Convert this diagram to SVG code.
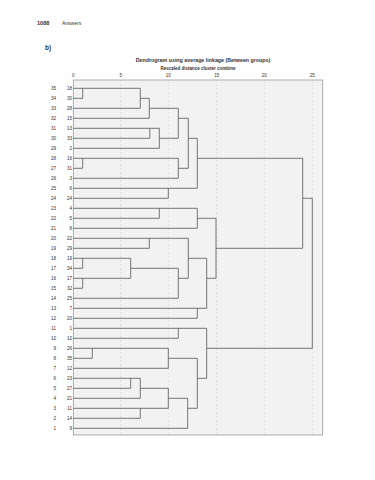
<svg xmlns="http://www.w3.org/2000/svg" width="375" height="480" viewBox="0 0 375 480">
<style>
.t{font-family:"Liberation Sans",Arial,sans-serif;fill:#333}
.lab{font-size:4.6px;text-anchor:end}
.ax{font-size:4.6px;text-anchor:middle}
.grid{stroke:#c8c8c8;stroke-width:0.5;stroke-dasharray:2,2;fill:none}
.ln{stroke:#555;stroke-width:0.8;fill:none}
</style>
<rect width="375" height="480" fill="#fff"/>
<text class="t" x="37" y="25" font-size="5.6" font-weight="bold">1088</text>
<text class="t" x="62" y="25" font-size="5">Answers</text>
<text class="t" x="45" y="50" font-size="6.5" font-weight="bold">b)</text>
<text class="t" x="203" y="61.5" font-size="5.3" font-weight="bold" text-anchor="middle">Dendrogram using average linkage (Between groups)</text>
<text class="t" x="198" y="70" font-size="4.5" font-weight="bold" text-anchor="middle">Rescaled distance cluster combine</text>
<g id="axis">
<text class="t ax" x="73.3" y="77">0</text>
<text class="t ax" x="120.7" y="77">5</text>
<text class="t ax" x="168.3" y="77">10</text>
<text class="t ax" x="216.7" y="77">15</text>
<text class="t ax" x="264.3" y="77">20</text>
<text class="t ax" x="312.3" y="77">25</text>
</g>
<rect id="frame" x="73.3" y="80" width="249.4" height="355" fill="#f2f2f2" stroke="#999" stroke-width="0.8"/>
<path class="grid" d="M120.7 80V435M168.3 80V435M216.7 80V435M264.3 80V435M312.3 80V435"/>
<g id="leaves">
<g id="n18"><text class="t lab" x="56" y="89.9">35</text><text class="t lab" x="72" y="89.9">18</text></g>
<g id="n30"><text class="t lab" x="56" y="99.9">34</text><text class="t lab" x="72" y="99.9">30</text></g>
<g id="n28"><text class="t lab" x="56" y="109.9">33</text><text class="t lab" x="72" y="109.9">28</text></g>
<g id="n15"><text class="t lab" x="56" y="119.9">32</text><text class="t lab" x="72" y="119.9">15</text></g>
<g id="n13"><text class="t lab" x="56" y="129.9">31</text><text class="t lab" x="72" y="129.9">13</text></g>
<g id="n33"><text class="t lab" x="56" y="139.9">30</text><text class="t lab" x="72" y="139.9">33</text></g>
<g id="n2"><text class="t lab" x="56" y="149.9">29</text><text class="t lab" x="72" y="149.9">2</text></g>
<g id="n16"><text class="t lab" x="56" y="159.9">28</text><text class="t lab" x="72" y="159.9">16</text></g>
<g id="n31"><text class="t lab" x="56" y="169.9">27</text><text class="t lab" x="72" y="169.9">31</text></g>
<g id="n3"><text class="t lab" x="56" y="179.9">26</text><text class="t lab" x="72" y="179.9">3</text></g>
<g id="n6"><text class="t lab" x="56" y="189.9">25</text><text class="t lab" x="72" y="189.9">6</text></g>
<g id="n24"><text class="t lab" x="56" y="199.9">24</text><text class="t lab" x="72" y="199.9">24</text></g>
<g id="n4"><text class="t lab" x="56" y="209.9">23</text><text class="t lab" x="72" y="209.9">4</text></g>
<g id="n5"><text class="t lab" x="56" y="219.9">22</text><text class="t lab" x="72" y="219.9">5</text></g>
<g id="n8"><text class="t lab" x="56" y="229.9">21</text><text class="t lab" x="72" y="229.9">8</text></g>
<g id="n22"><text class="t lab" x="56" y="239.9">20</text><text class="t lab" x="72" y="239.9">22</text></g>
<g id="n29"><text class="t lab" x="56" y="249.9">19</text><text class="t lab" x="72" y="249.9">29</text></g>
<g id="n19"><text class="t lab" x="56" y="259.9">18</text><text class="t lab" x="72" y="259.9">19</text></g>
<g id="n34"><text class="t lab" x="56" y="269.9">17</text><text class="t lab" x="72" y="269.9">34</text></g>
<g id="n17"><text class="t lab" x="56" y="279.9">16</text><text class="t lab" x="72" y="279.9">17</text></g>
<g id="n32"><text class="t lab" x="56" y="289.9">15</text><text class="t lab" x="72" y="289.9">32</text></g>
<g id="n25"><text class="t lab" x="56" y="299.9">14</text><text class="t lab" x="72" y="299.9">25</text></g>
<g id="n7"><text class="t lab" x="56" y="309.9">13</text><text class="t lab" x="72" y="309.9">7</text></g>
<g id="n20"><text class="t lab" x="56" y="319.9">12</text><text class="t lab" x="72" y="319.9">20</text></g>
<g id="n1"><text class="t lab" x="56" y="329.9">11</text><text class="t lab" x="72" y="329.9">1</text></g>
<g id="n10"><text class="t lab" x="56" y="339.9">10</text><text class="t lab" x="72" y="339.9">10</text></g>
<g id="n26"><text class="t lab" x="56" y="349.9">9</text><text class="t lab" x="72" y="349.9">26</text></g>
<g id="n35"><text class="t lab" x="56" y="359.9">8</text><text class="t lab" x="72" y="359.9">35</text></g>
<g id="n12"><text class="t lab" x="56" y="369.9">7</text><text class="t lab" x="72" y="369.9">12</text></g>
<g id="n23"><text class="t lab" x="56" y="379.9">6</text><text class="t lab" x="72" y="379.9">23</text></g>
<g id="n27"><text class="t lab" x="56" y="389.9">5</text><text class="t lab" x="72" y="389.9">27</text></g>
<g id="n21"><text class="t lab" x="56" y="399.9">4</text><text class="t lab" x="72" y="399.9">21</text></g>
<g id="n11"><text class="t lab" x="56" y="409.9">3</text><text class="t lab" x="72" y="409.9">11</text></g>
<g id="n14"><text class="t lab" x="56" y="419.9">2</text><text class="t lab" x="72" y="419.9">14</text></g>
<g id="n9"><text class="t lab" x="56" y="429.9">1</text><text class="t lab" x="72" y="429.9">9</text></g>
</g>
<g id="connectors">
<path class="ln" d="M73.3 88.3H140.3
M73.3 98.3H82.7M140.3 98.3H149.3
M73.3 108.3H140.3M149.3 108.3H178.3
M73.3 118.3H149.3M178.3 118.3H188.3
M73.3 128.3H159.3
M73.3 138.3H149.8M159.3 138.3H178.3M188.3 138.3H197.3
M73.3 148.3H159.3
M73.3 158.3H178.3M197.3 158.3H302.7
M73.3 168.3H82.7M178.3 168.3H188.3
M73.3 178.3H178.3
M73.3 188.3H197.3
M73.3 198.3H168.3M302.7 198.3H312.3
M73.3 208.3H197.3
M73.3 218.3H159.3M197.3 218.3H216
M73.3 228.3H197.3
M73.3 238.3H188.3
M73.3 248.3H149.3M216 248.3H302.7
M73.3 258.3H130.7M188.3 258.3H206.7
M73.3 268.3H82.7M130.7 268.3H178.3
M73.3 278.3H130.7M178.3 278.3H188.3M206.7 278.3H216
M73.3 288.3H82.7
M73.3 298.3H178.3
M73.3 308.3H206.7
M73.3 318.3H197.3
M73.3 328.3H206.7
M73.3 338.3H178.3
M73.3 348.3H168.3M206.7 348.3H312.3
M73.3 358.3H92.3M168.3 358.3H197.3
M73.3 368.3H168.3
M73.3 378.3H140.3M197.3 378.3H206.7
M73.3 388.3H130.7M140.3 388.3H168.3
M73.3 398.3H140.3M168.3 398.3H187.7
M73.3 408.3H168.3M187.7 408.3H197.3
M73.3 418.3H140.3
M73.3 428.3H187.7"/>
<path class="ln" d="M82.7 88.3V98.3M82.7 158.3V168.3M82.7 258.3V268.3M82.7 278.3V288.3
M92.3 348.3V358.3
M130.7 258.3V278.3M130.7 378.3V388.3
M140.3 88.3V108.3M140.3 378.3V398.3M140.3 408.3V418.3
M149.3 98.3V118.3M149.3 238.3V248.3
M149.8 128.3V138.3
M159.3 128.3V148.3M159.3 208.3V218.3
M168.3 188.3V198.3M168.3 348.3V368.3M168.3 388.3V408.3
M178.3 108.3V138.3M178.3 158.3V178.3M178.3 268.3V298.3M178.3 328.3V338.3
M188.3 118.3V168.3M188.3 238.3V278.3M187.7 398.3V428.3
M197.3 138.3V188.3M197.3 208.3V228.3M197.3 308.3V318.3M197.3 358.3V408.3
M206.7 258.3V308.3M206.7 328.3V378.3
M216 218.3V278.3
M302.7 158.3V248.3
M312.3 198.3V348.3"/>
</g>
</svg>
